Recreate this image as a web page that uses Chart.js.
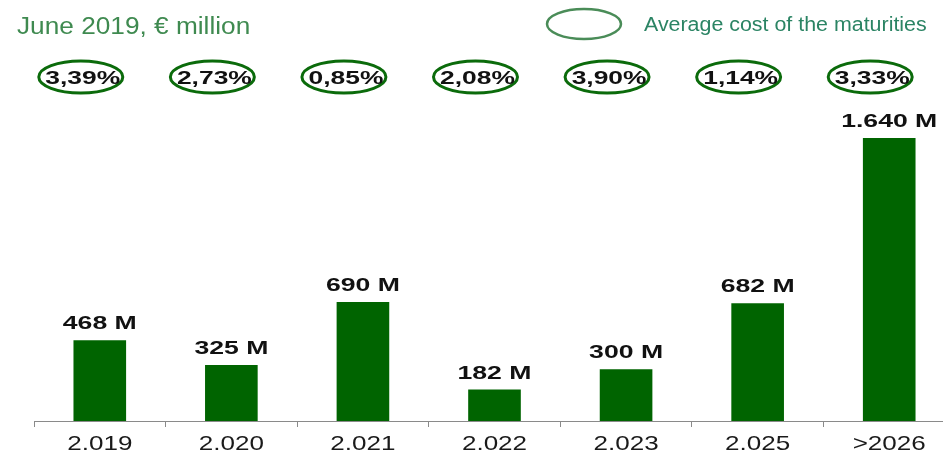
<!DOCTYPE html>
<html>
<head>
<meta charset="utf-8">
<script src="https://cdn.jsdelivr.net/npm/chart.js@4/dist/chart.umd.min.js"></script>
<style>
  html, body { margin: 0; padding: 0; background: #fff; overflow: hidden; }
  #wrap { width: 943px; height: 455px; overflow: hidden; position: relative; }
  canvas { display: block; }
</style>
</head>
<body>
<div id="wrap"><canvas id="grafica" width="955" height="455"></canvas></div>
<script>
// datos del gráfico
const anios = ['2.019', '2.020', '2.021', '2.022', '2.023', '2.025', '>2026'];
const importes = [468, 325, 690, 182, 300, 682, 1640];
const etiquetas = ['468 M', '325 M', '690 M', '182 M', '300 M', '682 M', '1.640 M'];
const costes = ['3,39%', '2,73%', '0,85%', '2,08%', '3,90%', '1,14%', '3,33%'];

const verde = '#006400';
const fuente = '"Liberation Sans", Arial, sans-serif';

// texto estirado en horizontal (como en la imagen original)
function texto(ctx, str, x, y, font, color, align, sx) {
    ctx.save();
    ctx.font = font;
    ctx.fillStyle = color;
    ctx.textAlign = align;
    ctx.textBaseline = 'alphabetic';
    ctx.translate(x, y);
    ctx.scale(sx, 1);
    ctx.fillText(str, 0, 0);
    ctx.restore();
}

// título, leyenda, etiquetas y elipses
const extras = {
    id: 'extras',
    afterDraw(chart) {
        const ctx = chart.ctx;
        const x = chart.scales.x;
        ctx.save();

        // título
        texto(ctx, 'June 2019, € million', 17, 34, '23px ' + fuente, '#3f8a50', 'left', 1.14);

        // leyenda
        ctx.strokeStyle = '#4a8c58';
        ctx.lineWidth = 2.5;
        ctx.beginPath();
        ctx.ellipse(584, 24, 37, 15, 0, 0, Math.PI * 2);
        ctx.stroke();
        texto(ctx, 'Average cost of the maturities', 644, 31, '20px ' + fuente, '#2b8464', 'left', 1.07);

        // coste medio en elipses
        costes.forEach((c, i) => {
            const cx = x.getPixelForValue(i) - 19;
            ctx.strokeStyle = '#0b6b0b';
            ctx.lineWidth = 3;
            ctx.beginPath();
            ctx.ellipse(cx, 77, 42, 16, 0, 0, Math.PI * 2);
            ctx.stroke();
            texto(ctx, c, cx + 2, 84, 'bold 19px ' + fuente, '#111', 'center', 1.39);
        });

        // etiquetas encima de las barras
        const meta = chart.getDatasetMeta(0);
        meta.data.forEach((bar, i) => {
            texto(ctx, etiquetas[i], bar.x, bar.y - 11, 'bold 19px ' + fuente, '#111', 'center', 1.4);
        });

        // etiquetas del eje x
        anios.forEach((a, i) => {
            texto(ctx, a, x.getPixelForValue(i), 450, '21px ' + fuente, '#1a1a1a', 'center', 1.24);
        });

        ctx.restore();
    }
};

new Chart(document.getElementById('grafica'), {
    type: 'bar',
    data: {
        labels: anios,
        datasets: [{
            data: importes,
            backgroundColor: verde,
            borderWidth: 0,
            categoryPercentage: 1,
            barPercentage: 0.4
        }]
    },
    options: {
        responsive: false,
        animation: false,
        layout: { padding: { left: 34, top: 100, right: 0, bottom: 0 } },
        plugins: {
            legend: { display: false },
            tooltip: { enabled: false }
        },
        scales: {
            x: {
                offset: true,
                grid: {
                    offset: true,
                    drawOnChartArea: false,
                    tickLength: 6,
                    color: '#8a8a8a'
                },
                border: { display: true, color: '#8a8a8a', width: 1 },
                ticks: { display: false },
                afterFit(scale) { scale.height = 34; }
            },
            y: {
                display: false,
                min: 0,
                max: 1860
            }
        }
    },
    plugins: [extras]
});
</script>
</body>
</html>
